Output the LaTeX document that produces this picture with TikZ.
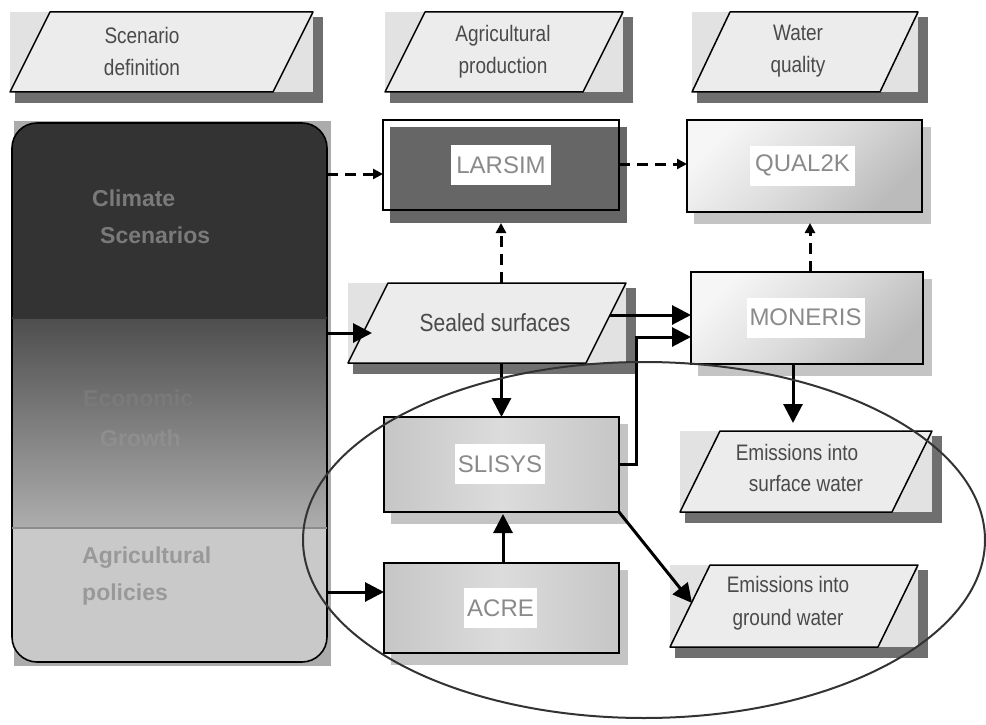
\documentclass[tikz,border=0pt]{standalone}
\usepackage{fontspec}
\usepackage{graphicx}
\setmainfont{Liberation Sans}
\usetikzlibrary{arrows.meta,backgrounds,calc}
\definecolor{pbg}{HTML}{E2E2E2}
\definecolor{parafill}{HTML}{ECECEC}
\definecolor{pshadowc}{HTML}{6F6F6F}
\definecolor{ptext}{HTML}{4A4A4A}
\definecolor{labelgrey}{HTML}{8A8A8A}
\definecolor{darkshadow}{HTML}{666666}
\definecolor{lightshadow}{HTML}{C4C4C4}
\definecolor{climfill}{HTML}{333333}
\definecolor{econtop}{HTML}{4E4E4E}
\definecolor{econbot}{HTML}{ADADAD}
\definecolor{agfill}{HTML}{C9C9C9}
\definecolor{climtxt}{HTML}{7A7A7A}
\definecolor{econtxt}{HTML}{7A7A7A}
\definecolor{agtxt}{HTML}{999999}
\definecolor{boxgrey}{HTML}{BBBBBB}
\definecolor{boxwhite}{HTML}{F6F6F6}
\definecolor{boxmid}{HTML}{C6C6C6}
\definecolor{boxlight}{HTML}{DCDCDC}
\definecolor{ellcol}{HTML}{333333}
\definecolor{lbshadow}{HTML}{ABABAB}
\newcommand\tallt[1]{\scalebox{1}[1.18]{#1}}
\tikzset{
  sect/.style={rectangle, inner sep=0pt, outer sep=0pt},
  para/.style={rectangle, inner sep=0pt, outer sep=0pt, minimum height=80pt},
  paraline/.style={draw=black, line width=1.5pt, fill=parafill, line join=round},
  box/.style={rectangle, draw=black, line width=1.6pt, inner sep=0pt, outer sep=0pt},
  gradbox/.style={top color=boxwhite, bottom color=boxgrey, middle color=boxlight, shading angle=45},
  greybox/.style={left color=boxmid, right color=boxmid, middle color=boxlight},
  lbl/.style={fill=white, text=labelgrey, font=\fontsize{24}{28}\selectfont,
    inner xsep=5pt, inner ysep=0pt, minimum height=40pt},
  ptxt/.style={text=ptext, font=\fontsize{19}{32}\selectfont, align=center, inner sep=0pt},
  bigtxt/.style={anchor=west, inner sep=0pt, font=\bfseries\fontsize{23}{27}\selectfont},
  arr/.style={line width=3pt, -{Triangle[length=19pt,width=19pt]}},
  dasharr/.style={line width=3pt, dash pattern=on 11pt off 7pt,
    -{Triangle[length=10pt,width=10pt]}},
}
\newcommand\mkparashadow[1]{%
  \fill[pshadowc] ([shift={(5pt,-11pt)}]#1.south west) rectangle ([shift={(10pt,-5pt)}]#1.north east);
  \fill[pbg] (#1.south west) rectangle (#1.north east);}
\newcommand\mkparashape[2]{%
  \path[paraline] (#1.south west) -- ([xshift=-#2]#1.south east) -- (#1.north east)
     -- ([xshift=#2]#1.north west) -- cycle;}
\newcommand\mkboxshadow[2]{%
  \fill[#2] ([shift={(7pt,-7pt)}]#1.north west) rectangle ([shift={(9pt,-12pt)}]#1.south east);}
\begin{document}
\begin{tikzpicture}[x=1pt,y=-1pt]
\useasboundingbox (0,0) rectangle (986,725);

% ---- left column sections (named) ----
\node[sect, minimum width=315pt, minimum height=195pt] (clim) at (169.5,220.5) {};
\node[sect, minimum width=315pt, minimum height=210pt] (econ) at (169.5,423) {};
\node[sect, minimum width=315pt, minimum height=134pt] (agpol) at (169.5,595) {};

% ---- parallelogram frames (named) ----
\node[para, minimum width=303pt] (scen) at (161.5,52) {};
\node[para, minimum width=238pt] (agri) at (504,52) {};
\node[para, minimum width=226pt] (wq) at (805,52) {};
\node[para, minimum width=278pt] (sealed) at (487,323) {};
\node[para, minimum width=252pt, minimum height=81pt] (surf) at (806,471.5) {};
\node[para, minimum width=248pt, minimum height=82pt] (ground) at (794,606) {};

\mkparashape{scen}{40pt}
\mkparashape{agri}{40pt}
\mkparashape{wq}{38pt}
\mkparashape{sealed}{40pt}
\mkparashape{surf}{40pt}
\mkparashape{ground}{40pt}

\node[ptxt] (scenT) at (142,51) {\tallt{Scenario}\\\tallt{definition}};
\node[ptxt] (agriT) at (503,51.5) {\tallt{Agricultural}\\\tallt{production}};
\node[ptxt] (wqT) at (798,51.5) {\tallt{Water}\\\tallt{quality}};
\node[ptxt, font=\fontsize{21}{25}\selectfont] (sealedT) at (495,323) {\tallt{Sealed surfaces}};
\node[ptxt, font=\fontsize{19}{31}\selectfont] (surfT) at (797,467.5) {\tallt{Emissions into}\\\hspace*{18pt}\tallt{surface water}};
\node[ptxt, font=\fontsize{19}{33}\selectfont] (groundT) at (788,603.5) {\tallt{Emissions into}\\\tallt{ground water}};

% ---- model boxes ----
\node[box, minimum width=236pt, minimum height=90pt] (larsim) at (501,165) {};
\node[box, gradbox, minimum width=235pt, minimum height=92pt] (qual) at (804.5,166) {};
\node[box, gradbox, minimum width=232pt, minimum height=92pt] (moneris) at (807,318) {};
\node[box, greybox, minimum width=235pt, minimum height=95pt] (slisys) at (501.5,464.5) {};
\node[box, greybox, minimum width=235pt, minimum height=90pt] (acre) at (501.5,608) {};

\node[lbl] (larsimL) at (larsim.center) {LARSIM};
\node[lbl] (qualL) at (802.5,165.5) {QUAL2K};
\node[lbl, inner xsep=3pt] (monerisL) at (805.5,317.5) {MONERIS};
\node[lbl, inner xsep=3pt] (slisysL) at (500,464) {SLISYS};
\node[lbl, inner xsep=3pt] (acreL) at (500.5,608) {ACRE};

% ---- background layer: shadows and fills ----
\begin{scope}[on background layer]
  \fill[lbshadow] (14,121) rectangle (331,666);
  \begin{scope}
    \clip[rounded corners=25pt] (clim.north west) rectangle (agpol.south east);
    \fill[climfill] (clim.north west) rectangle (clim.south east);
    \shade[top color=econtop, bottom color=econbot] (econ.north west) rectangle (econ.south east);
    \fill[agfill] (agpol.north west) rectangle (agpol.south east);
  \end{scope}
  \mkparashadow{scen}
  \mkparashadow{agri}
  \mkparashadow{wq}
  \mkparashadow{sealed}
  \mkparashadow{surf}
  \mkparashadow{ground}
  \fill[darkshadow] ([shift={(7pt,-7pt)}]larsim.north west) rectangle ([shift={(8pt,-13pt)}]larsim.south east);
  \mkboxshadow{qual}{lightshadow}
  \mkboxshadow{moneris}{lightshadow}
  \mkboxshadow{slisys}{lightshadow}
  \mkboxshadow{acre}{lightshadow}
\end{scope}

% left box outline and dividers
\draw[line width=1.6pt, rounded corners=25pt] (clim.north west) rectangle (agpol.south east);
\draw[line width=1.2pt, black!80] (clim.south west) -- (clim.south east);
\draw[line width=1.2pt, black!45] (econ.south west) -- (econ.south east);

% left box texts
\node[bigtxt, text=climtxt] (climA) at (92,198) {Climate};
\node[bigtxt, text=climtxt] (climB) at (100,235) {Scenarios};
\node[bigtxt, text=econtxt] (econA) at (83,398) {Economic};
\node[bigtxt, text=econtxt!85!white] (econB) at (100,438) {Growth};
\node[bigtxt, text=agtxt] (agA) at (82,558) {Agricultural};
\node[bigtxt, text=agtxt] (agB) at (82,595) {policies};

% ---- connectors ----
\draw[dasharr] ([yshift=-9pt]larsim.west -| clim.east) -- ([yshift=-9pt]larsim.west);
\draw[dasharr] ([yshift=1pt]larsim.east) -- ([yshift=1pt]larsim.east -| qual.west);
\draw[dasharr] (sealed.north -| larsim.south) -- ([yshift=-13pt]larsim.south);
\coordinate (mq) at ([xshift=3pt]moneris.north);
\draw[dasharr] (mq) -- ([yshift=-11pt]qual.south -| mq);

\draw[arr] ([yshift=-10pt]sealed.west -| econ.east) -- ([shift={(24pt,-10pt)}]sealed.west);
\draw[arr] ([shift={(-16pt,8pt)}]sealed.east) -- ([yshift=8pt]sealed.east -| moneris.west);
\draw[arr, line join=miter] (slisys.east) -- ++(17,0) |- ([yshift=-19pt]moneris.west);
\draw[arr] (sealed.south -| slisys.north) -- (slisys.north);
\draw[arr] ([xshift=1.5pt]acre.north) -- ([xshift=1.5pt,yshift=-2pt]slisys.south);
\draw[arr] ([yshift=16pt]acre.west -| agpol.east) -- ([yshift=16pt]acre.west);
\coordinate (ms) at ([xshift=-14pt]moneris.south);
\draw[arr] (ms) -- ([yshift=8pt]surf.north -| ms);
\draw[arr] (slisys.south east) -- ([shift={(22pt,3pt)}]ground.west);

% ---- ellipse ----
\draw[line width=2pt, ellcol] (644,540) ellipse [x radius=341pt, y radius=178pt];
\end{tikzpicture}
\end{document}
